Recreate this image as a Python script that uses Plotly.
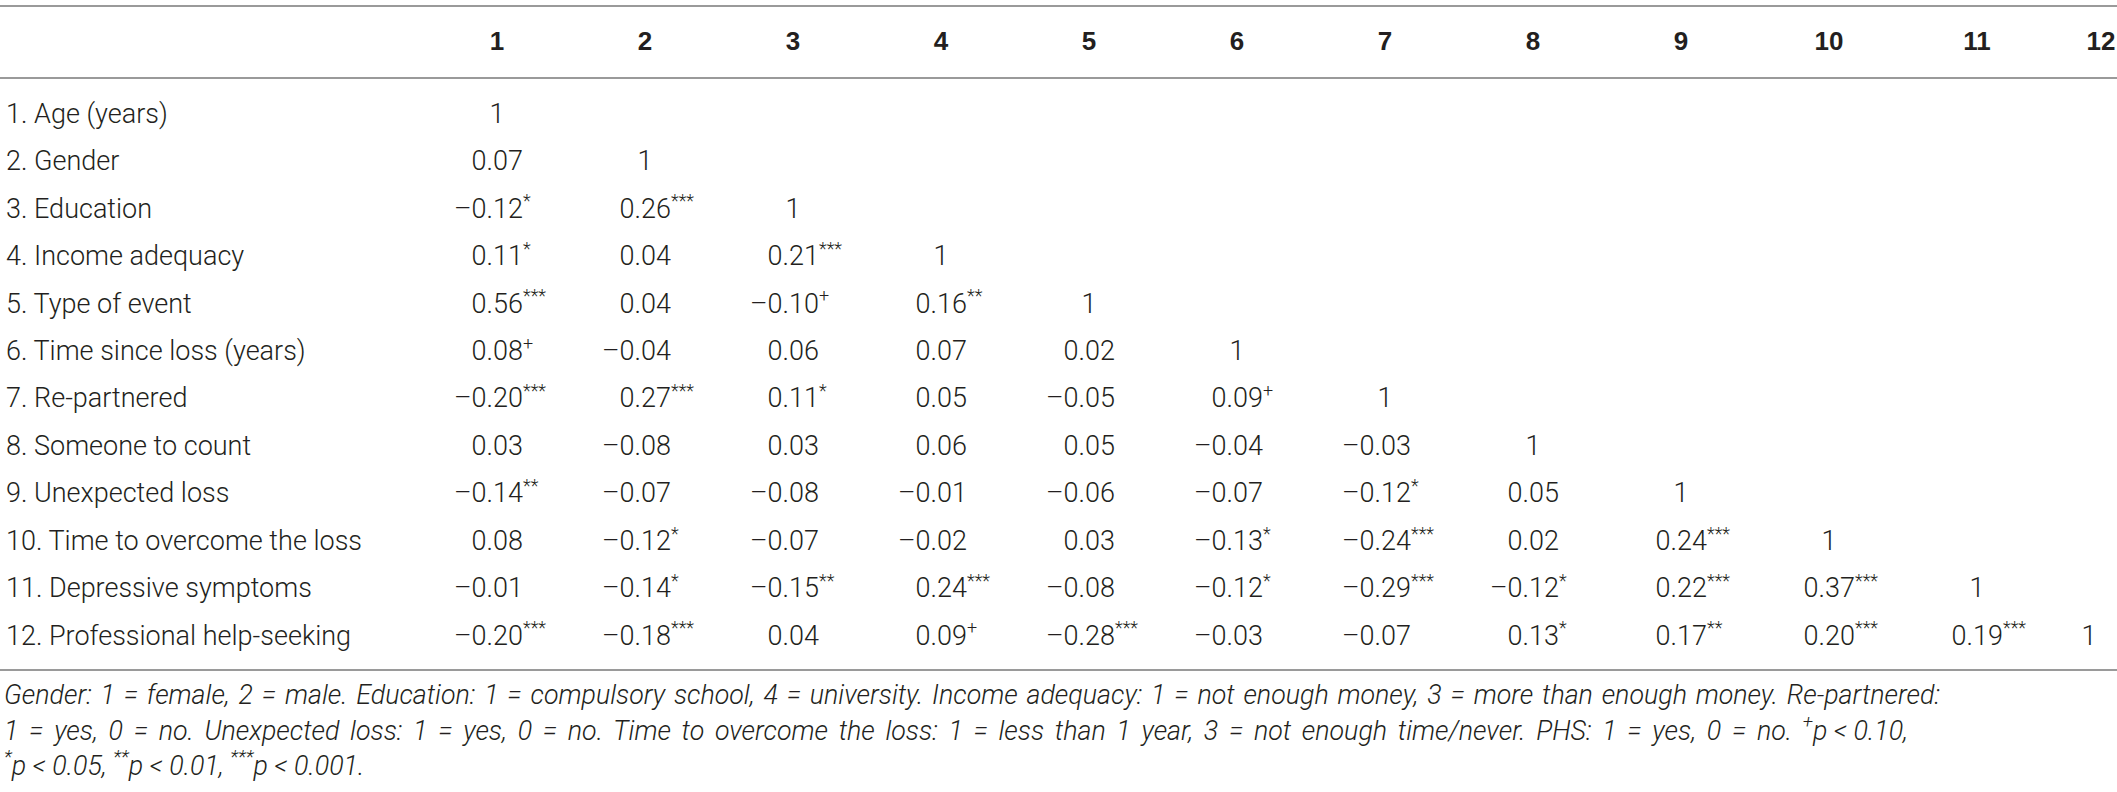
import plotly.graph_objs as go

# заголовки столбцов и названия строк
headers = [str(i) for i in range(1, 13)]
labels = ["1. Age (years)", "2. Gender", "3. Education", "4. Income adequacy",
          "5. Type of event", "6. Time since loss (years)", "7. Re-partnered",
          "8. Someone to count", "9. Unexpected loss", "10. Time to overcome the loss",
          "11. Depressive symptoms", "12. Professional help-seeking"]

# корреляции (нижний треугольник без диагонали)
corr = [
    [],
    [0.07],
    [-0.12, 0.26],
    [0.11, 0.04, 0.21],
    [0.56, 0.04, -0.10, 0.16],
    [0.08, -0.04, 0.06, 0.07, 0.02],
    [-0.20, 0.27, 0.11, 0.05, -0.05, 0.09],
    [0.03, -0.08, 0.03, 0.06, 0.05, -0.04, -0.03],
    [-0.14, -0.07, -0.08, -0.01, -0.06, -0.07, -0.12, 0.05],
    [0.08, -0.12, -0.07, -0.02, 0.03, -0.13, -0.24, 0.02, 0.24],
    [-0.01, -0.14, -0.15, 0.24, -0.08, -0.12, -0.29, -0.12, 0.22, 0.37],
    [-0.20, -0.18, 0.04, 0.09, -0.28, -0.03, -0.07, 0.13, 0.17, 0.20, 0.19],
]
# значимость
sig = [
    [],
    [""],
    ["*", "***"],
    ["*", "", "***"],
    ["***", "", "+", "**"],
    ["+", "", "", "", ""],
    ["***", "***", "*", "", "", "+"],
    ["", "", "", "", "", "", ""],
    ["**", "", "", "", "", "", "*", ""],
    ["", "*", "", "", "", "*", "***", "", "***"],
    ["", "*", "**", "***", "", "*", "***", "*", "***", "***"],
    ["***", "***", "", "+", "***", "", "", "*", "**", "***", "***"],
]
diag = "1"

footnote = [
    '<span style="word-spacing:2.3px">Gender: 1 = female, 2 = male. Education: 1 = compulsory school, '
    '4 = university. Income adequacy: 1 = not enough money, 3 = more than enough money. Re-partnered:</span>',
    '<span style="word-spacing:4.2px">1 = yes, 0 = no. Unexpected loss: 1 = yes, 0 = no. Time to overcome '
    'the loss: 1 = less than 1 year, 3 = not enough time/never. PHS: 1 = yes, 0 = no. </span>'
    '<sup>+</sup>p &lt; 0.10,',
    "<sup>*</sup>p &lt; 0.05, <sup>**</sup>p &lt; 0.01, <sup>***</sup>p &lt; 0.001.",
]

# геометрия таблицы (в пикселях страницы)
W, H = 2117, 792
col_x = [497, 645, 793, 941, 1089, 1237, 1385, 1533, 1681, 1829, 1977, 2089]
head_x = col_x[:-1] + [2101]
row_y = [116 + 47.45 * i for i in range(len(labels))]
head_y = 43
foot_y = [697, 733, 768]
rules_y = [6, 78, 670]
label_x = 6
half_num = 26
sup_dy = -8
FONT = "Roboto, Liberation Sans, sans-serif"
COLOR = "#231f20"
FS = 27


def fmt(v):
    s = "%.2f" % abs(v)
    return ("\u2013" + s) if v < 0 else s


num_x, num_y, num_t = [], [], []
sup_x, sup_y, sup_t = [], [], []
one_x, one_y = [], []
for i, row in enumerate(corr):
    for j, v in enumerate(row):
        num_x.append(col_x[j] + half_num)
        num_y.append(row_y[i])
        num_t.append(fmt(v))
        if sig[i][j]:
            sup_x.append(col_x[j] + half_num)
            sup_y.append(row_y[i] + sup_dy)
            sup_t.append(sig[i][j])
    one_x.append(col_x[i])
    one_y.append(row_y[i])

fig = go.Figure()
body_font = dict(family=FONT, size=FS, color=COLOR, weight=300)

# названия строк
fig.add_trace(go.Scatter(x=[label_x] * len(labels), y=row_y, text=labels, mode="text",
                         textposition="middle right", textfont=body_font))
# заголовки
fig.add_trace(go.Scatter(x=head_x, y=[head_y] * len(headers), text=headers, mode="text",
                         textposition="middle center",
                         textfont=dict(family="Liberation Sans, Arial", size=FS - 1, color=COLOR, weight="bold")))
# числа
fig.add_trace(go.Scatter(x=num_x, y=num_y, text=num_t, mode="text",
                         textposition="middle left", textfont=body_font))
# звёздочки
fig.add_trace(go.Scatter(x=sup_x, y=sup_y, text=sup_t, mode="text",
                         textposition="middle right",
                         textfont=dict(family=FONT, size=18, color=COLOR, weight=300)))
# диагональ
fig.add_trace(go.Scatter(x=one_x, y=one_y, text=[diag] * len(one_x), mode="text",
                         textposition="middle center", textfont=body_font))
# примечание
fig.add_trace(go.Scatter(x=[label_x - 2] * 3, y=foot_y, text=footnote, mode="text",
                         textposition="middle right",
                         textfont=dict(family=FONT, size=26.8, color=COLOR, weight=300, style="italic")))

line = dict(color="#9a9a9a", width=2)
for yy in rules_y:
    fig.add_shape(type="line", x0=0, x1=W, y0=yy, y1=yy, xref="x", yref="y", line=line)

fig.update_layout(width=W, height=H, margin=dict(l=0, r=0, t=0, b=0),
                  plot_bgcolor="white", paper_bgcolor="white", showlegend=False,
                  xaxis=dict(range=[0, W], visible=False, fixedrange=True),
                  yaxis=dict(range=[H, 0], visible=False, fixedrange=True))
# убираем отступ страницы, чтобы таблица встала в окно целиком
fig.write_html("out.html", config={"displayModeBar": False},
               post_script="document.body.style.margin='0';")
